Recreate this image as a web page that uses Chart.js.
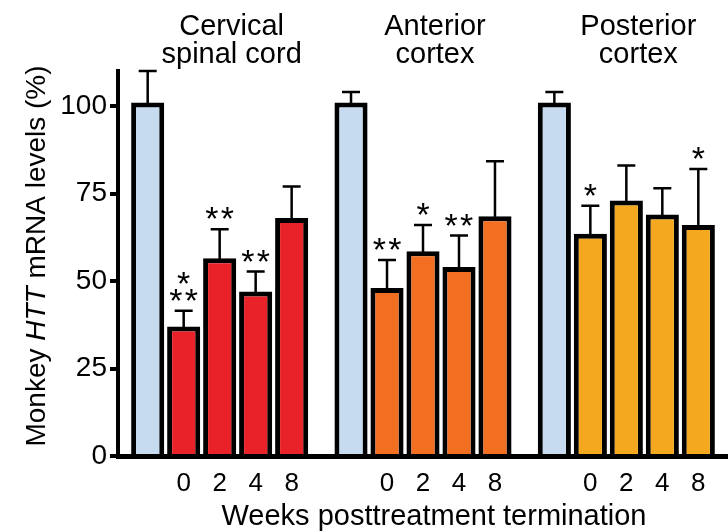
<!DOCTYPE html>
<html><head><meta charset="utf-8">
<script src="https://cdn.jsdelivr.net/npm/chart.js@4.4.1/dist/chart.umd.min.js"></script>
<style>html,body{margin:0;padding:0;background:#fff}#wrap{width:728px;height:532px;position:relative}</style>
</head><body><div id="wrap"><canvas id="c" width="728" height="532"></canvas></div>
<script>
// ---- data ----
const tissues = [['Cervical', 'spinal cord'], ['Anterior', 'cortex'], ['Posterior', 'cortex']];
const timepoints = ['Control', '0', '2', '4', '8'];
const cervicalMeans  = [101, 37, 56.5, 47, 68];
const cervicalErrors = [9, 4.5, 8.3, 5.7, 9];
const cervicalStars  = ['', '*\n**', '**', '**', ''];
const anteriorMeans  = [101, 48, 58.5, 54, 68.5];
const anteriorErrors = [3, 8, 7.5, 9, 15.7];
const anteriorStars  = ['', '**', '*', '**', ''];
const posteriorMeans  = [101, 63.5, 73, 69, 66];
const posteriorErrors = [3, 8, 10, 7.5, 16];
const posteriorStars  = ['', '*', '', '', '*'];
const yTicks = [0, 25, 50, 75, 100];
const xTitle = 'Weeks posttreatment termination';
const yTitleParts = [['Monkey ', false], ['HTT', true], [' mRNA levels (%)', false]];

// ---- styles ----
const FONT = "'Liberation Sans', Arial, Helvetica, sans-serif";
const controlColor = '#c6dbf0';
const tissueColors = ['#e92129', '#f26f22', '#f3a81f'];

const meansByTissue = [cervicalMeans, anteriorMeans, posteriorMeans];
const errorsByTissue = [cervicalErrors, anteriorErrors, posteriorErrors];
const starsByTissue = [cervicalStars, anteriorStars, posteriorStars];

const datasets = timepoints.map((tp, i) => ({
  label: tp,
  data: meansByTissue.map(m => m[i]),
  errors: errorsByTissue.map(e => e[i]),
  stars: starsByTissue.map(s => s[i]),
  backgroundColor: i === 0 ? controlColor : tissueColors,
  borderColor: '#000',
  borderWidth: 5,
  borderSkipped: 'bottom',
  categoryPercentage: 0.885,
  barPercentage: 0.92
}));

const annotPlugin = {
  id: 'annot',
  afterDatasetsDraw(chart) {
    const ctx = chart.ctx, y = chart.scales.y;
    ctx.save();
    ctx.strokeStyle = '#000';
    ctx.fillStyle = '#000';
    ctx.lineWidth = 2.5;
    chart.data.datasets.forEach((ds, di) => {
      const meta = chart.getDatasetMeta(di);
      meta.data.forEach((bar, k) => {
        const top = y.getPixelForValue(ds.data[k] + ds.errors[k]);
        ctx.beginPath();
        ctx.moveTo(bar.x, bar.y + 2);
        ctx.lineTo(bar.x, top);
        ctx.moveTo(bar.x - 9, top);
        ctx.lineTo(bar.x + 9, top);
        ctx.stroke();
        const s = ds.stars[k];
        if (s) {
          ctx.font = '34px ' + FONT;
          ctx.textAlign = 'center';
          ctx.textBaseline = 'alphabetic';
          const m = ctx.measureText('*');
          const off = (m.actualBoundingBoxDescent - m.actualBoundingBoxAscent) / 2;
          const lines = s.split('\n');
          lines.forEach((line, li) => {
            const center = top - 16 - (lines.length - 1 - li) * 17;
            const n = line.length;
            for (let j = 0; j < n; j++) {
              ctx.fillText('*', bar.x + (j - (n - 1) / 2) * 15.5, center - off);
            }
          });
        }
      });
    });
    ctx.restore();
  },
  afterDraw(chart) {
    const ctx = chart.ctx;
    ctx.save();
    ctx.fillStyle = '#000';
    ctx.textBaseline = 'alphabetic';
    ctx.textAlign = 'center';
    // week labels under the bars
    ctx.font = '26px ' + FONT;
    for (let di = 1; di < timepoints.length; di++) {
      chart.getDatasetMeta(di).data.forEach(bar => ctx.fillText(timepoints[di], bar.x, 491));
    }
    // group titles
    ctx.font = '29px ' + FONT;
    tissues.forEach((lines, k) => {
      let sx = 0, c = 0;
      for (let di = 1; di < timepoints.length; di++) { sx += chart.getDatasetMeta(di).data[k].x; c++; }
      const cx = sx / c - 6;
      lines.forEach((t, li) => ctx.fillText(t, cx, 35 + li * 28));
    });
    // x title
    ctx.font = '29px ' + FONT;
    ctx.fillText(xTitle, 434, 525);
    // y title (mixed italic)
    ctx.translate(45, 256);
    ctx.rotate(-Math.PI / 2);
    ctx.textAlign = 'left';
    const fontFor = it => (it ? 'italic ' : '') + '28px ' + FONT;
    let total = 0;
    yTitleParts.forEach(([t, it]) => { ctx.font = fontFor(it); total += ctx.measureText(t).width; });
    let x = -total / 2;
    yTitleParts.forEach(([t, it]) => { ctx.font = fontFor(it); ctx.fillText(t, x, 0); x += ctx.measureText(t).width; });
    ctx.restore();
  }
};

new Chart(document.getElementById('c'), {
  type: 'bar',
  data: { labels: tissues.map(t => t.join(' ')), datasets },
  options: {
    responsive: false,
    devicePixelRatio: 1,
    animation: false,
    layout: { padding: { top: 71, right: 0, left: 0, bottom: 0 } },
    plugins: { legend: { display: false }, tooltip: { enabled: false } },
    scales: {
      x: {
        grid: { display: false },
        ticks: { display: false },
        border: { display: true, width: 5, color: '#000' },
        afterFit: s => { s.height = 76; }
      },
      y: {
        min: 0, max: 110,
        afterBuildTicks: s => { s.ticks = yTicks.map(v => ({ value: v })); },
        afterFit: s => { s.width = 118; },
        ticks: { color: '#000', padding: 3, font: { size: 28, family: FONT } },
        grid: { display: true, drawOnChartArea: false, drawTicks: true, tickLength: 8, lineWidth: 4, color: '#000' },
        border: { display: true, width: 4, color: '#000' }
      }
    }
  },
  plugins: [annotPlugin]
});
</script>
</body></html>
